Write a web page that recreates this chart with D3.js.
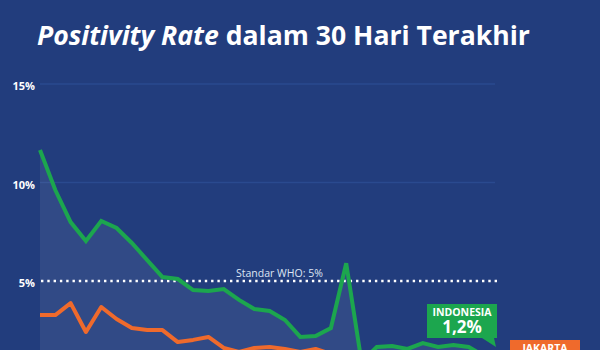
<!DOCTYPE html>
<html>
<head>
<meta charset="utf-8">
<script src="https://cdn.jsdelivr.net/npm/d3@7"></script>
<style>
  html, body { margin: 0; padding: 0; background: #223d7d; }
  svg { display: block; }
  text { font-family: "Open Sans", "Noto Sans", sans-serif; }
</style>
</head>
<body>
<svg id="chart" width="600" height="350"></svg>
<script>
// Day index over the last 30 days
const days = d3.range(1, 31);

// Positivity rate (%) per day
const indonesia = [11.65, 9.62, 7.99, 7.03, 8.05, 7.69, 6.93, 6.06, 5.2, 5.1,
                   4.54, 4.49, 4.59, 4.04, 3.58, 3.48, 3.02, 2.16, 2.21, 2.61,
                   5.9, 0.9, 1.65, 1.7, 1.55, 1.85, 1.65, 1.75, 1.65, 1.2];
const jakarta = [3.27, 3.27, 3.88, 2.41, 3.68, 3.07, 2.61, 2.51, 2.51, 1.9,
                 2.01, 2.16, 1.6, 1.4, 1.6, 1.65, 1.55, 1.4, 1.55, 1.3,
                 1.35, 0.9, 1.1, 1.2, 1.0, 1.2, 1.1, 1.0, 1.1, 0.9];

const yTicks = [5, 10, 15];
const whoLimit = 5;

const svg = d3.select("#chart");
const W = 600, H = 350;

const x = d3.scalePoint().domain(days).range([40, 484]);
const y = d3.scaleLinear().domain([0, 15]).range([379.5, 84]);

// Title
const title = svg.append("text")
  .attr("x", 37).attr("y", 45)
  .attr("fill", "#fff")
  .attr("font-weight", 700)
  .attr("font-size", 25);
title.append("tspan").attr("font-style", "italic").text("Positivity Rate");
title.append("tspan").text(" dalam 30 Hari Terakhir");
const tw = title.node().getComputedTextLength();
title.attr("font-size", 25 * 493 / tw);

// Grid lines (10% and 15%)
svg.append("g").selectAll("line")
  .data(yTicks.filter(d => d !== whoLimit))
  .join("line")
  .attr("x1", 40).attr("x2", 495)
  .attr("y1", d => y(d)).attr("y2", d => y(d))
  .attr("stroke", "#2a4a8f").attr("stroke-width", 1.5);

// Y axis labels
const yAxis = d3.axisLeft(y).tickValues(yTicks).tickFormat(d => d + "%").tickSize(0).tickPadding(0);
const gy = svg.append("g").attr("transform", "translate(35,2)").call(yAxis);
gy.select(".domain").remove();
gy.selectAll("text")
  .attr("fill", "#fff")
  .attr("font-size", 11)
  .attr("font-weight", 700)
  .attr("font-family", "'Open Sans', sans-serif");

// Shaded area under Indonesia line
const area = d3.area()
  .x((d, i) => x(days[i]))
  .y0(H + 40)
  .y1(d => y(d));
svg.append("path")
  .datum(indonesia)
  .attr("d", area)
  .attr("fill", "#ffffff")
  .attr("fill-opacity", 0.07);

// WHO threshold
svg.append("line")
  .attr("x1", 41).attr("x2", 497)
  .attr("y1", y(whoLimit)).attr("y2", y(whoLimit))
  .attr("stroke", "#fff")
  .attr("stroke-width", 2.6)
  .attr("stroke-dasharray", "2.4,3.9");
svg.append("text")
  .attr("x", 236).attr("y", y(whoLimit) - 4)
  .attr("fill", "#dfe5f3")
  .attr("font-size", 10.5)
  .text("Standar WHO: 5%");

const line = d3.line()
  .x((d, i) => x(days[i]))
  .y(d => y(d));

svg.append("path")
  .datum(jakarta)
  .attr("d", line)
  .attr("fill", "none")
  .attr("stroke", "#ef6a2c")
  .attr("stroke-width", 4)
  .attr("stroke-linejoin", "round");

svg.append("path")
  .datum(indonesia)
  .attr("d", line)
  .attr("fill", "none")
  .attr("stroke", "#1ca64e")
  .attr("stroke-width", 4)
  .attr("stroke-linejoin", "miter");

// End labels
const fmt = v => d3.format(".1f")(v).replace(".", ",") + "%";

function callout(g, bx, by, bw, bh, color, name, value, tail) {
  const path = d3.path();
  path.moveTo(bx, by);
  path.lineTo(bx + bw, by);
  path.lineTo(bx + bw, by + bh);
  path.lineTo(tail[0] + 6, by + bh);
  path.lineTo(tail[1], tail[2]);
  path.lineTo(tail[0] - 6, by + bh);
  path.lineTo(bx, by + bh);
  path.closePath();
  g.append("path").attr("d", path.toString()).attr("fill", color);
  const t = g.append("text")
    .attr("text-anchor", "middle")
    .attr("fill", "#fff").attr("font-weight", 700);
  t.append("tspan")
    .attr("x", bx + bw / 2).attr("y", by + 11.5)
    .attr("font-size", 10.5)
    .text(name);
  if (value != null) {
    t.append("tspan")
      .attr("x", bx + bw / 2).attr("y", by + 29)
      .attr("font-size", 17)
      .text(fmt(value));
  }
}

const last = days.length - 1;
callout(svg.append("g"), 427, 304, 70, 34, "#1ca64e", "INDONESIA", indonesia[last],
        [488, 496, 347]);
callout(svg.append("g"), 510, 340, 70, 34, "#ef6a2c", "JAKARTA", null,
        [520, 500, 380]);
</script>
</body>
</html>
